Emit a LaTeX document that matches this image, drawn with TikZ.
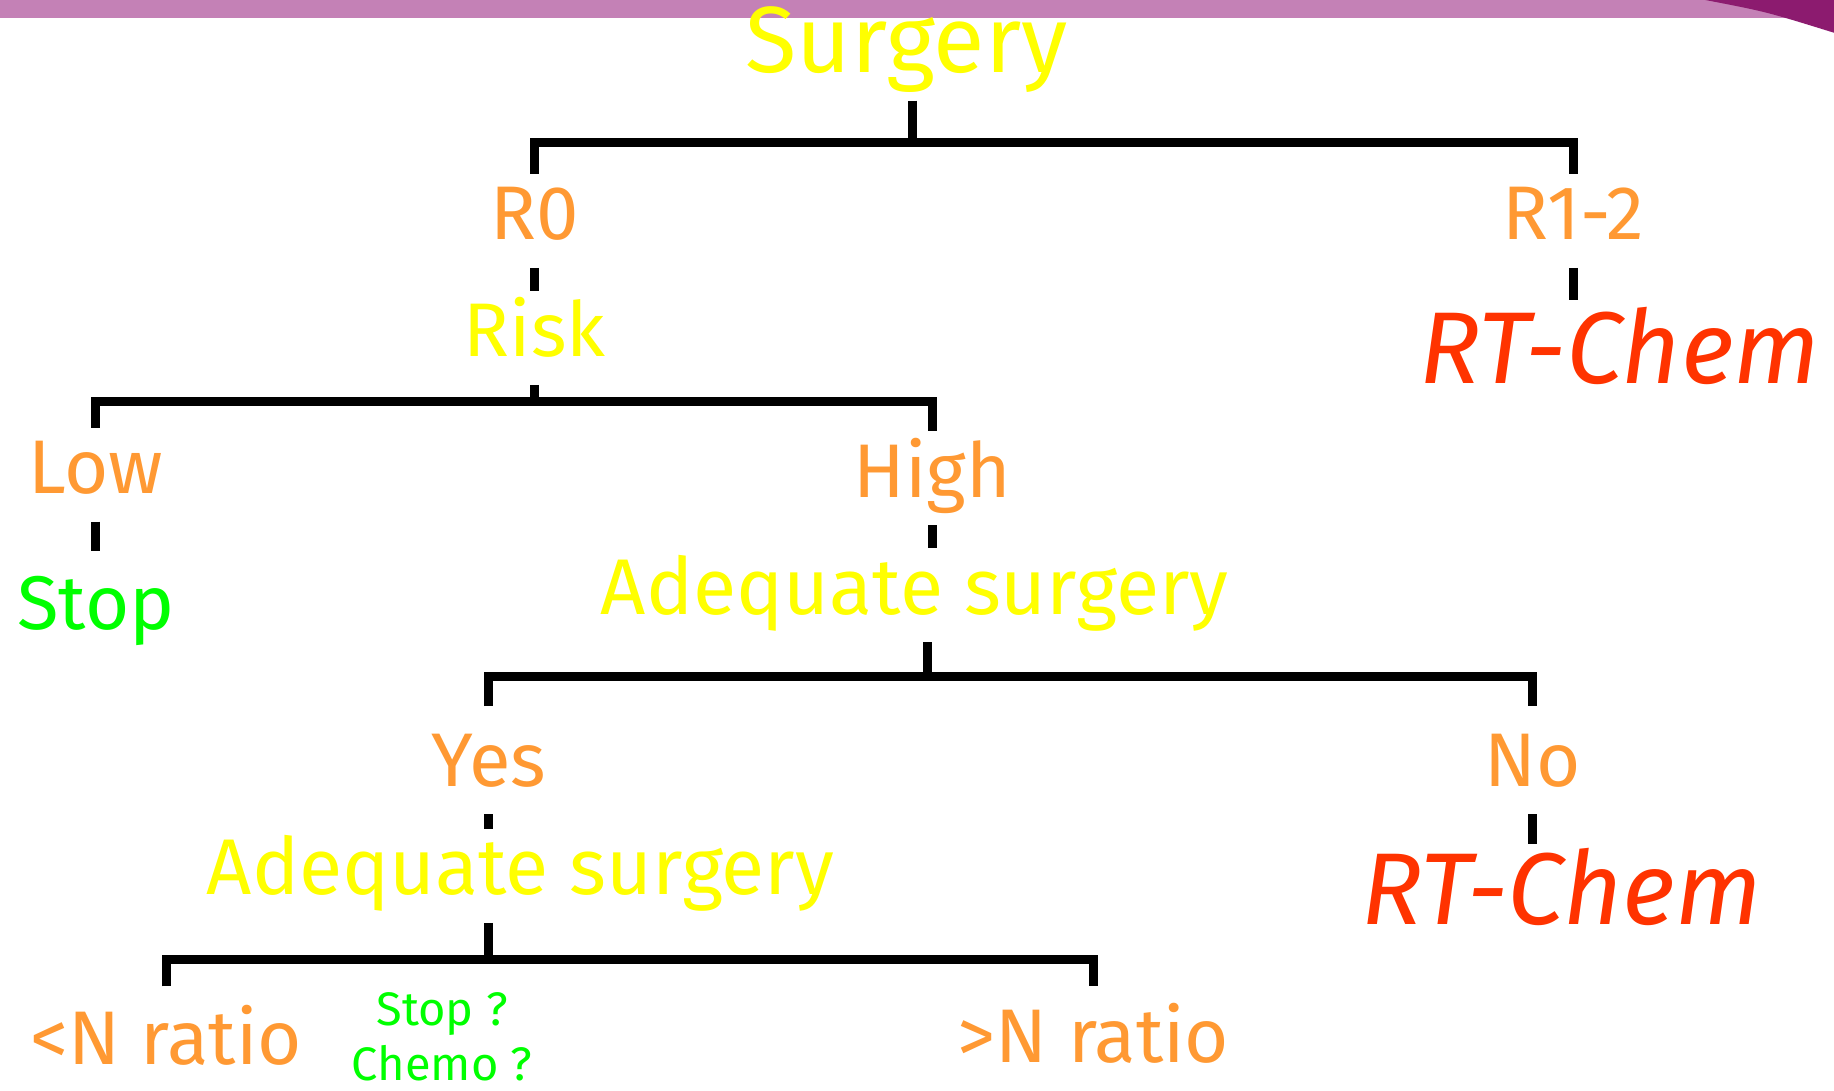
\documentclass[tikz,border=0pt]{standalone}
\usepackage{fontspec}
\setmainfont{Fira Sans}
\usepackage{tikz}

\definecolor{bandpurple}{HTML}{C481B6}
\definecolor{bandplum}{HTML}{8C1B6F}
\definecolor{lblorange}{HTML}{FF9933}
\definecolor{lblyellow}{HTML}{FFFF00}
\definecolor{lblgreen}{HTML}{00FF00}
\definecolor{lblred}{HTML}{FF3300}

\begin{document}
\begin{tikzpicture}[x=1.1696pt,y=-1.1696pt,
		branch/.style={line width=9pt},
		lbl/.style={anchor=base,inner sep=0pt,outer sep=0pt,text height=66pt,text depth=28pt,
			font=\fontsize{76}{80}\selectfont},
		answer/.style={lbl,text=lblorange},
		question/.style={lbl,text=lblyellow},
		verdict/.style={lbl,text=lblgreen},
		therapy/.style={lbl,text=lblred,text height=84pt,font=\fontsize{102}{110}\selectfont\itshape}]
	\useasboundingbox (0,0) rectangle (1568,932);
	% banner along the top
	\fill[bandpurple] (0,0) rectangle (1568,15);
	\fill[bandplum] (1458,0) .. controls (1510,10) .. (1568,28) -- (1568,0) -- cycle;

	% labels
	\node[question,font=\fontsize{94}{98}\selectfont] (surgery) at (775,62) {Surgery};
	\node[answer] (r0) at (457,205) {R0};
	\node[answer] (r12) at (1345,205) {R1-2};
	\node[question] (risk) at (457,305) {Risk};
	\node[therapy] (rtchemA) at (1385,328) {RT-Chem};
	\node[answer] (low) at (82,422) {Low};
	\node[answer] (high) at (797,425) {High};
	\node[verdict,text height=78pt] (stop) at (82,538) {Stop};
	\node[question,font=\fontsize{79}{84}\selectfont] (adeqA) at (782,525) {Adequate surgery};
	\node[answer,text height=80pt] (yes) at (418,672) {Yes};
	\node[answer,text height=80pt] (no) at (1310,672) {No};
	\node[question,font=\fontsize{79}{84}\selectfont] (adeqB) at (445,765) {Adequate surgery};
	\node[therapy,text height=80pt] (rtchemB) at (1335,790) {RT-Chem};
	\node[answer,text height=78pt] (nlow) at (142,910) {<N ratio};
	\node[answer,text height=76pt] (nhigh) at (935,908) {>N ratio};
	\node[text=lblgreen,align=center,inner sep=0pt,font=\fontsize{47}{55}\selectfont] (unsure) at (378,886) {Stop ?\\Chemo ?};

	% junctions of the brackets
	\coordinate (j1) at (780,122);
	\coordinate (j2) at (457,343);
	\coordinate (j3) at (793,578);
	\coordinate (j4) at (418,820);

	% tree
	\draw[branch] (surgery.south -| j1) -- (j1);
	\draw[branch] (r0.north) |- (j1) -| (r12.north);
	\draw[branch] (r0.south) -- (risk.north);
	\draw[branch] (r12.south) -- (r12.south |- rtchemA.north);
	\draw[branch] (risk.south) -- (j2);
	\draw[branch] (low.north) |- (j2) -| (high.north);
	\draw[branch] (low.south) -- (stop.north);
	\draw[branch] (high.south) -- (high.south |- adeqA.north);
	\draw[branch] (adeqA.south -| j3) -- (j3);
	\draw[branch] (yes.north) |- (j3) -| (no.north);
	\draw[branch] (yes.south) -- (yes.south |- adeqB.north);
	\draw[branch] (no.south) -- (no.south |- rtchemB.north);
	\draw[branch] (adeqB.south -| j4) -- (j4);
	\draw[branch] (nlow.north) |- (j4) -| (nhigh.north);
\end{tikzpicture}
\end{document}
